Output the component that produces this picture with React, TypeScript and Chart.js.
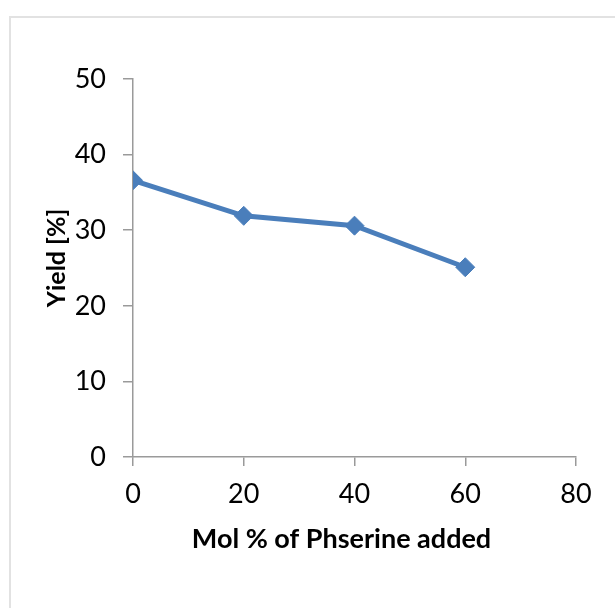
import React, { useEffect, useRef } from "react";
import { Chart, registerables } from "chart.js";

Chart.register(...registerables);

const molPercent = [0, 20, 40, 60];
const yieldPercent = [36.6, 31.9, 30.6, 25.1];
const xTickStep = 20;
const xRange = [0, 80];
const yTickStep = 10;
const yRange = [0, 50];
const xTitle = "Mol % of Phserine added";
const yTitle = "Yield [%]";

const FONT = "Lato, 'Open Sans', sans-serif";
const AXIS = "#9a9a9a";
const SERIES = "#4a7ebb";

// Excel-style axis titles: centred slightly off the plot-area centre
const axisTitles = {
  id: "axisTitles",
  afterDraw(chart: any) {
    const { ctx, chartArea } = chart;
    ctx.save();
    ctx.fillStyle = "#000";
    ctx.textAlign = "center";
    ctx.textBaseline = "middle";
    ctx.font = `bold 27px ${FONT}`;
    const cx = (chartArea.left + chartArea.right) / 2 - 13;
    ctx.fillText(xTitle, cx, chartArea.bottom + 82);
    ctx.font = `bold 25px ${FONT}`;
    const cy = (chartArea.top + chartArea.bottom) / 2 - 10;
    ctx.translate(chartArea.left - 76, cy);
    ctx.rotate(-Math.PI / 2);
    ctx.fillText(yTitle, 0, 0);
    ctx.restore();
  },
};

export default function App() {
  const ref = useRef<HTMLCanvasElement>(null);

  useEffect(() => {
    if (!ref.current) return;
    const chart = new Chart(ref.current, {
      type: "line",
      data: {
        datasets: [
          {
            data: molPercent.map((x, i) => ({ x, y: yieldPercent[i] })),
            borderColor: SERIES,
            backgroundColor: SERIES,
            borderWidth: 5,
            tension: 0,
            pointStyle: "rectRot",
            pointRadius: 9.5,
            pointBorderWidth: 1,
            pointBackgroundColor: SERIES,
            pointBorderColor: SERIES,
          },
        ],
      },
      options: {
        responsive: false,
        animation: false,
        layout: { padding: { top: 61, right: 39, left: 0, bottom: 0 } },
        plugins: {
          legend: { display: false },
          tooltip: { enabled: false },
        },
        scales: {
          x: {
            type: "linear",
            min: xRange[0],
            max: xRange[1],
            afterFit: (s: any) => {
              s.height = 151;
            },
            ticks: {
              stepSize: xTickStep,
              color: "#000",
              padding: 12,
              maxRotation: 0,
              font: { family: FONT, size: 27 },
            },
            grid: {
              drawOnChartArea: false,
              tickLength: 9,
              color: AXIS,
              lineWidth: 1.5,
            },
            border: { color: AXIS, width: 1.5 },
          },
          y: {
            type: "linear",
            min: yRange[0],
            max: yRange[1],
            afterFit: (s: any) => {
              s.width = 122;
            },
            ticks: {
              stepSize: yTickStep,
              color: "#000",
              padding: 17,
              font: { family: FONT, size: 27 },
            },
            grid: {
              drawOnChartArea: false,
              tickLength: 10,
              color: AXIS,
              lineWidth: 1.5,
            },
            border: { color: AXIS, width: 1.5 },
          },
        },
      },
      plugins: [axisTitles],
    });
    return () => chart.destroy();
  }, []);

  return (
    <div
      style={{
        position: "fixed",
        left: 9,
        top: 16,
        width: 640,
        height: 640,
        border: "2px solid #e2e2e2",
        background: "#fff",
      }}
    >
      <canvas ref={ref} width={604} height={590} style={{ display: "block" }} />
    </div>
  );
}
